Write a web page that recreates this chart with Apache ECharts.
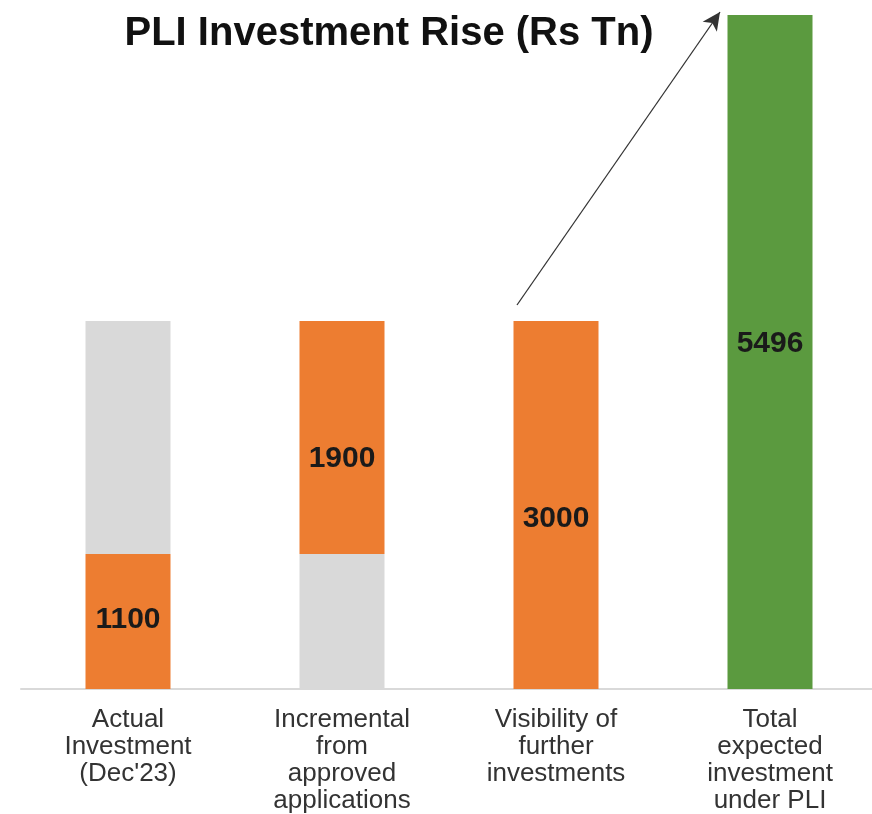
<!DOCTYPE html>
<html>
<head>
<meta charset="utf-8">
<script src="https://cdn.jsdelivr.net/npm/echarts@6/dist/echarts.min.js"></script>
<style>
    html, body { margin: 0; padding: 0; background: #fff; overflow: hidden; }
    #chart { width: 877px; height: 814px; }
</style>
</head>
<body>
<div id="chart"></div>
<script>
// categories along the x axis
const categories = [
    'Actual\nInvestment\n(Dec\'23)',
    'Incremental\nfrom\napproved\napplications',
    'Visibility of\nfurther\ninvestments',
    'Total\nexpected\ninvestment\nunder PLI'
]
// lower segment of each bar and the segment stacked on top (Rs Tn)
const lowerValues = [1100, 1100, 3000, 5496]
const upperValues = [1900, 1900, null, null]
// which segment carries a value label
const lowerLabelled = [true, false, true, true]
const upperLabelled = [false, true, false, false]

const ORANGE = '#ED7D31'
const GREY = '#D9D9D9'
const GREEN = '#5B9A3F'
const lowerColors = [ORANGE, GREY, ORANGE, GREEN]
const upperColors = [GREY, ORANGE, GREY, GREY]
const labelOffsets = [[0, -2], [0, 0], [0, 14], [0, -8]]
const upperOffsets = [[0, 0], [0, 21], [0, 0], [0, 0]]

const labelStyle = {
    position: 'inside',
    color: '#1a1a1a',
    fontSize: 30,
    fontWeight: 'bold',
    fontFamily: 'Liberation Sans, Arial, sans-serif'
}

let chart = echarts.init(document.getElementById('chart'))
chart.setOption({
    animation: false,
    title: {
        text: 'PLI Investment Rise (Rs Tn)',
        left: 384,
        top: 9,
        textAlign: 'center',
        textStyle: {
            fontSize: 40,
            fontWeight: 'bold',
            color: '#111',
            fontFamily: 'Liberation Sans, Arial, sans-serif'
        }
    },
    grid: {
        left: 21,
        right: 0,
        top: 15,
        bottom: 125,
        containLabel: false
    },
    xAxis: {
        type: 'category',
        data: categories,
        axisLine: { lineStyle: { color: '#D9D9D9', width: 2 } },
        axisTick: { show: false },
        axisLabel: {
            interval: 0,
            margin: 17,
            color: '#333',
            fontSize: 26,
            lineHeight: 27,
            verticalAlign: 'top',
            fontFamily: 'Liberation Sans, Arial, sans-serif'
        }
    },
    yAxis: {
        type: 'value',
        min: 0,
        max: 5496,
        show: false
    },
    series: [
        {
            name: 'lower',
            type: 'bar',
            stack: 'total',
            barWidth: 85,
            data: lowerValues.map((v, i) => ({
                value: v,
                itemStyle: { color: lowerColors[i] },
                label: { show: lowerLabelled[i], offset: labelOffsets[i] }
            })),
            label: labelStyle,
            markLine: {
                silent: true,
                symbol: ['none', 'arrow'],
                symbolSize: [13, 18],
                lineStyle: { color: '#333', width: 1.3, type: 'solid' },
                label: { show: false },
                data: [[{ x: 517, y: 305 }, { x: 720, y: 12 }]]
            }
        },
        {
            name: 'upper',
            type: 'bar',
            stack: 'total',
            barWidth: 85,
            data: upperValues.map((v, i) => ({
                value: v,
                itemStyle: { color: upperColors[i] },
                label: { show: upperLabelled[i], offset: upperOffsets[i] }
            })),
            label: labelStyle
        }
    ]
})
</script>
</body>
</html>
